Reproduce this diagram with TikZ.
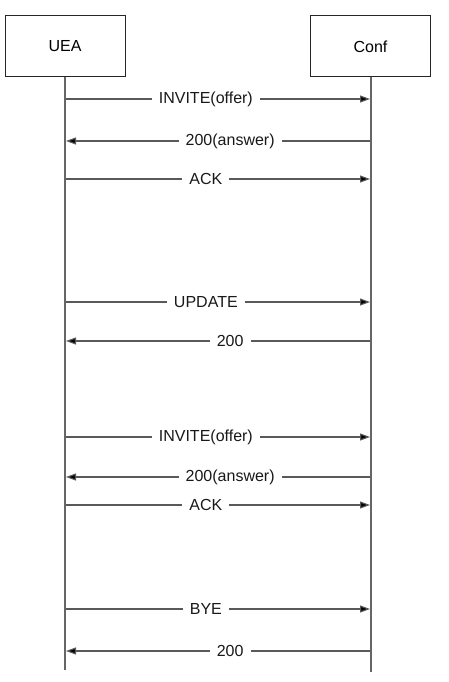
\documentclass[tikz,border=0pt]{standalone}
\usepackage{fontspec}
\setmainfont{Liberation Sans}
\usetikzlibrary{arrows.meta}
\begin{document}
\begin{tikzpicture}[x={(1pt,0)},y={(0,-1pt)},
  actor/.style={draw=black!85,line width=1pt,minimum width=120pt,minimum height=61pt,inner sep=0pt,font=\fontsize{16}{19}\selectfont},
  life/.style={draw=black!60,line width=1.2pt},
  msg/.style={draw=black!65,line width=1.1pt,-{Triangle[length=10pt,width=7pt,fill=black]}},
  lbl/.style={fill=white,inner sep=0pt,inner xsep=7pt,pos=0.46,font=\fontsize{16}{19}\selectfont,text=black!90}]
\useasboundingbox (0,0) rectangle (448,682);
\node[actor] (uea) at (65,46.5) {UEA};
\node[actor] (conf) at (370.5,46.5) {Conf};
\coordinate (ueaend) at (65,670);
\coordinate (confend) at (371,672);
\draw[life] (uea.south) -- (ueaend);
\draw[life] (conf.south -| confend) -- (confend);
% message anchors
\foreach \n/\y in {1/99,2/141,3/179,4/302,5/341,6/437,7/477,8/505,9/609,10/651}{
  \coordinate (l\n) at (66,\y);
  \coordinate (r\n) at (370,\y);
}
\draw[msg] (l1) -- node[lbl]{INVITE(offer)} (r1);
\draw[msg] (r2) -- node[lbl]{200(answer)} (l2);
\draw[msg] (l3) -- node[lbl]{ACK} (r3);
\draw[msg] (l4) -- node[lbl]{UPDATE} (r4);
\draw[msg] (r5) -- node[lbl]{200} (l5);
\draw[msg] (l6) -- node[lbl]{INVITE(offer)} (r6);
\draw[msg] (r7) -- node[lbl]{200(answer)} (l7);
\draw[msg] (l8) -- node[lbl]{ACK} (r8);
\draw[msg] (l9) -- node[lbl]{BYE} (r9);
\draw[msg] (r10) -- node[lbl]{200} (l10);
\end{tikzpicture}
\end{document}
